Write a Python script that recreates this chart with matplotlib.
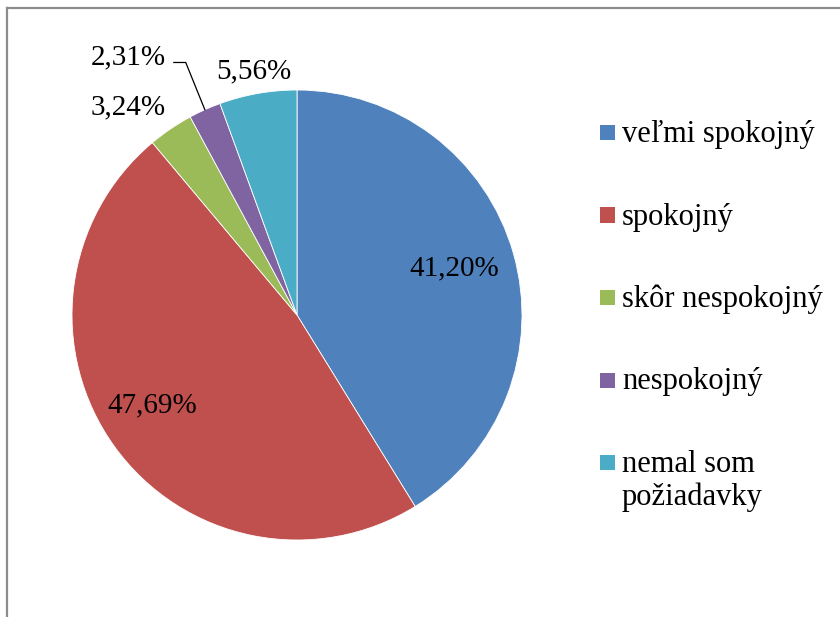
import numpy as np
import matplotlib.pyplot as plt
from matplotlib.patches import Rectangle
from matplotlib.lines import Line2D

# údaje
kategorie = ["veľmi spokojný", "spokojný", "skôr nespokojný", "nespokojný", "nemal som\npožiadavky"]
hodnoty = [41.20, 47.69, 3.24, 2.31, 5.56]
farby = ["#4F81BD", "#C0504D", "#9BBB59", "#8064A2", "#4BACC6"]

plt.rcParams['font.family'] = ['Liberation Serif', 'DejaVu Serif']

W, H = 840, 617
fig = plt.figure(figsize=(W / 100, H / 100), dpi=100)

# rámik grafu (ľavá a horná hrana)
fig.add_artist(Line2D([7 / W, 7 / W], [0, 1 - 8 / H], color="#8c8c8c", lw=1.6))
fig.add_artist(Line2D([7 / W, 1], [1 - 8 / H, 1 - 8 / H], color="#8c8c8c", lw=1.6))

cx, cy, R = 297, 315, 225
ax = fig.add_axes([(cx - R) / W, (H - cy - R) / H, 2 * R / W, 2 * R / H])
wedges, _ = ax.pie(hodnoty, colors=farby, startangle=90, counterclock=False,
                   radius=1, wedgeprops=dict(edgecolor="white", linewidth=0.6))
ax.set_xlim(-1, 1)
ax.set_ylim(-1, 1)
ax.set_axis_off()

# popisky: (vzdialenosť od stredu, posun uhla)
umiestnenie = [(0.73, 0.8), (0.76, -3.8), (1.19, 5.0), (1.37, 9.0), (1.10, 0.0)]
for w, v, (r, d) in zip(wedges, hodnoty, umiestnenie):
    uhol = np.deg2rad((w.theta1 + w.theta2) / 2 + d)
    ax.text(r * np.cos(uhol), r * np.sin(uhol), f"{v:.2f}".replace(".", ",") + "%",
            ha="center", va="center", fontsize=21)

# odkazová čiara pre 2,31 %
w = wedges[3]
uhol = np.deg2rad((w.theta1 + w.theta2) / 2)
bod = (1.0 * np.cos(uhol), 1.0 * np.sin(uhol))
zlom = (bod[0] - 0.085, bod[1] + 0.21)
ax.plot([bod[0], zlom[0], zlom[0] - 0.053], [bod[1], zlom[1], zlom[1]],
        color="black", lw=0.9, clip_on=False)

# legenda
prvy, krok, riadkovanie = 142, 82.5, 33
for i, (txt, c) in enumerate(zip(kategorie, farby)):
    y = prvy + i * krok
    fig.add_artist(Rectangle((600 / W, (H - y + 2) / H), 15 / W, 15 / H,
                             facecolor=c, edgecolor="none"))
    for j, casť in enumerate(txt.split("\n")):
        fig.text(622 / W, (H - y - j * riadkovanie) / H, casť, fontsize=22,
                 ha="left", va="baseline")

fig.savefig("out.png", dpi=100)
